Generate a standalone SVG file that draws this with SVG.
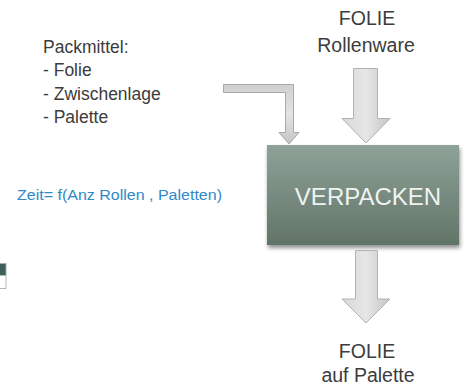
<svg xmlns="http://www.w3.org/2000/svg" width="464" height="385" viewBox="0 0 464 385">
<defs>
<linearGradient id="boxg" x1="0" y1="0" x2="0" y2="1">
<stop offset="0" stop-color="#8ea297"/>
<stop offset="1" stop-color="#627468"/>
</linearGradient>
<linearGradient id="arrg" x1="0" y1="0" x2="1" y2="0">
<stop offset="0" stop-color="#d8d8d8"/>
<stop offset="0.5" stop-color="#e6e6e6"/>
<stop offset="1" stop-color="#c6c6c6"/>
</linearGradient>
<linearGradient id="barg" x1="0" y1="0" x2="0" y2="1">
<stop offset="0" stop-color="#d0d0d0"/>
<stop offset="0.5" stop-color="#e4e4e4"/>
<stop offset="1" stop-color="#c4c4c4"/>
</linearGradient>
<filter id="sh" x="-10%" y="-10%" width="125%" height="130%">
<feGaussianBlur in="SourceAlpha" stdDeviation="2"/>
<feOffset dx="1" dy="3"/>
<feComponentTransfer><feFuncA type="linear" slope="0.45"/></feComponentTransfer>
<feMerge><feMergeNode/><feMergeNode in="SourceGraphic"/></feMerge>
</filter>
</defs>
<style>
.t{font-family:"Liberation Sans",Arial,sans-serif;fill:#3c3c3c}
.c{text-anchor:middle}
.p{font-size:17.5px}
.l{font-size:19.5px}
.arr{fill:url(#arrg);stroke:#b2b2b2;stroke-width:1}
</style>
<rect width="464" height="385" fill="#ffffff"/>
<g id="table-fragment">
<rect x="-1" y="263.5" width="7" height="12" fill="#3e605c" stroke="#a3aaa8" stroke-width="1"/>
<rect x="-1" y="275.5" width="7" height="13" fill="#ffffff" stroke="#b8b8b8" stroke-width="1"/>
</g>
<g id="packmittel">
<text class="t p" x="43" y="53">Packmittel:</text>
<text class="t p" x="43" y="76">- Folie</text>
<text class="t p" x="43" y="100">- Zwischenlage</text>
<text class="t p" x="43" y="123">- Palette</text>
</g>
<g id="zeit">
<text x="17" y="200" font-family="'Liberation Sans',Arial,sans-serif" font-size="14" fill="#2f88c8" textLength="205" lengthAdjust="spacingAndGlyphs">Zeit=  f(Anz Rollen , Paletten)</text>
</g>
<g id="input-label">
<text class="t c l" x="367" y="25">FOLIE</text>
<text class="t c l" x="366" y="52">Rollenware</text>
</g>
<g id="output-label">
<text class="t c l" x="367" y="358">FOLIE</text>
<text class="t c l" x="368" y="382">auf Palette</text>
</g>
<g id="verpacken">
<rect x="267" y="145" width="192" height="100" fill="url(#boxg)" filter="url(#sh)"/>
<text x="368" y="205" font-family="'Liberation Sans',Arial,sans-serif" font-size="24" fill="#eef3f1" text-anchor="middle">VERPACKEN</text>
</g>
<g id="connectors">
<path class="arr" d="M353.5,68.5 H377.5 V118.5 H390 L366,143 L342,118.5 H353.5 Z"/>
<path class="arr" d="M355.5,250.5 H377.5 V299 H390 L366,323 L342,299 H355.5 Z"/>
<path d="M223.5,84.5 H293.5 V132.5 H299 L289,144 L279,132.5 H285.5 V92.5 H223.5 Z" fill="url(#barg)" stroke="#a9a9a9" stroke-width="1"/>
</g>
</svg>
